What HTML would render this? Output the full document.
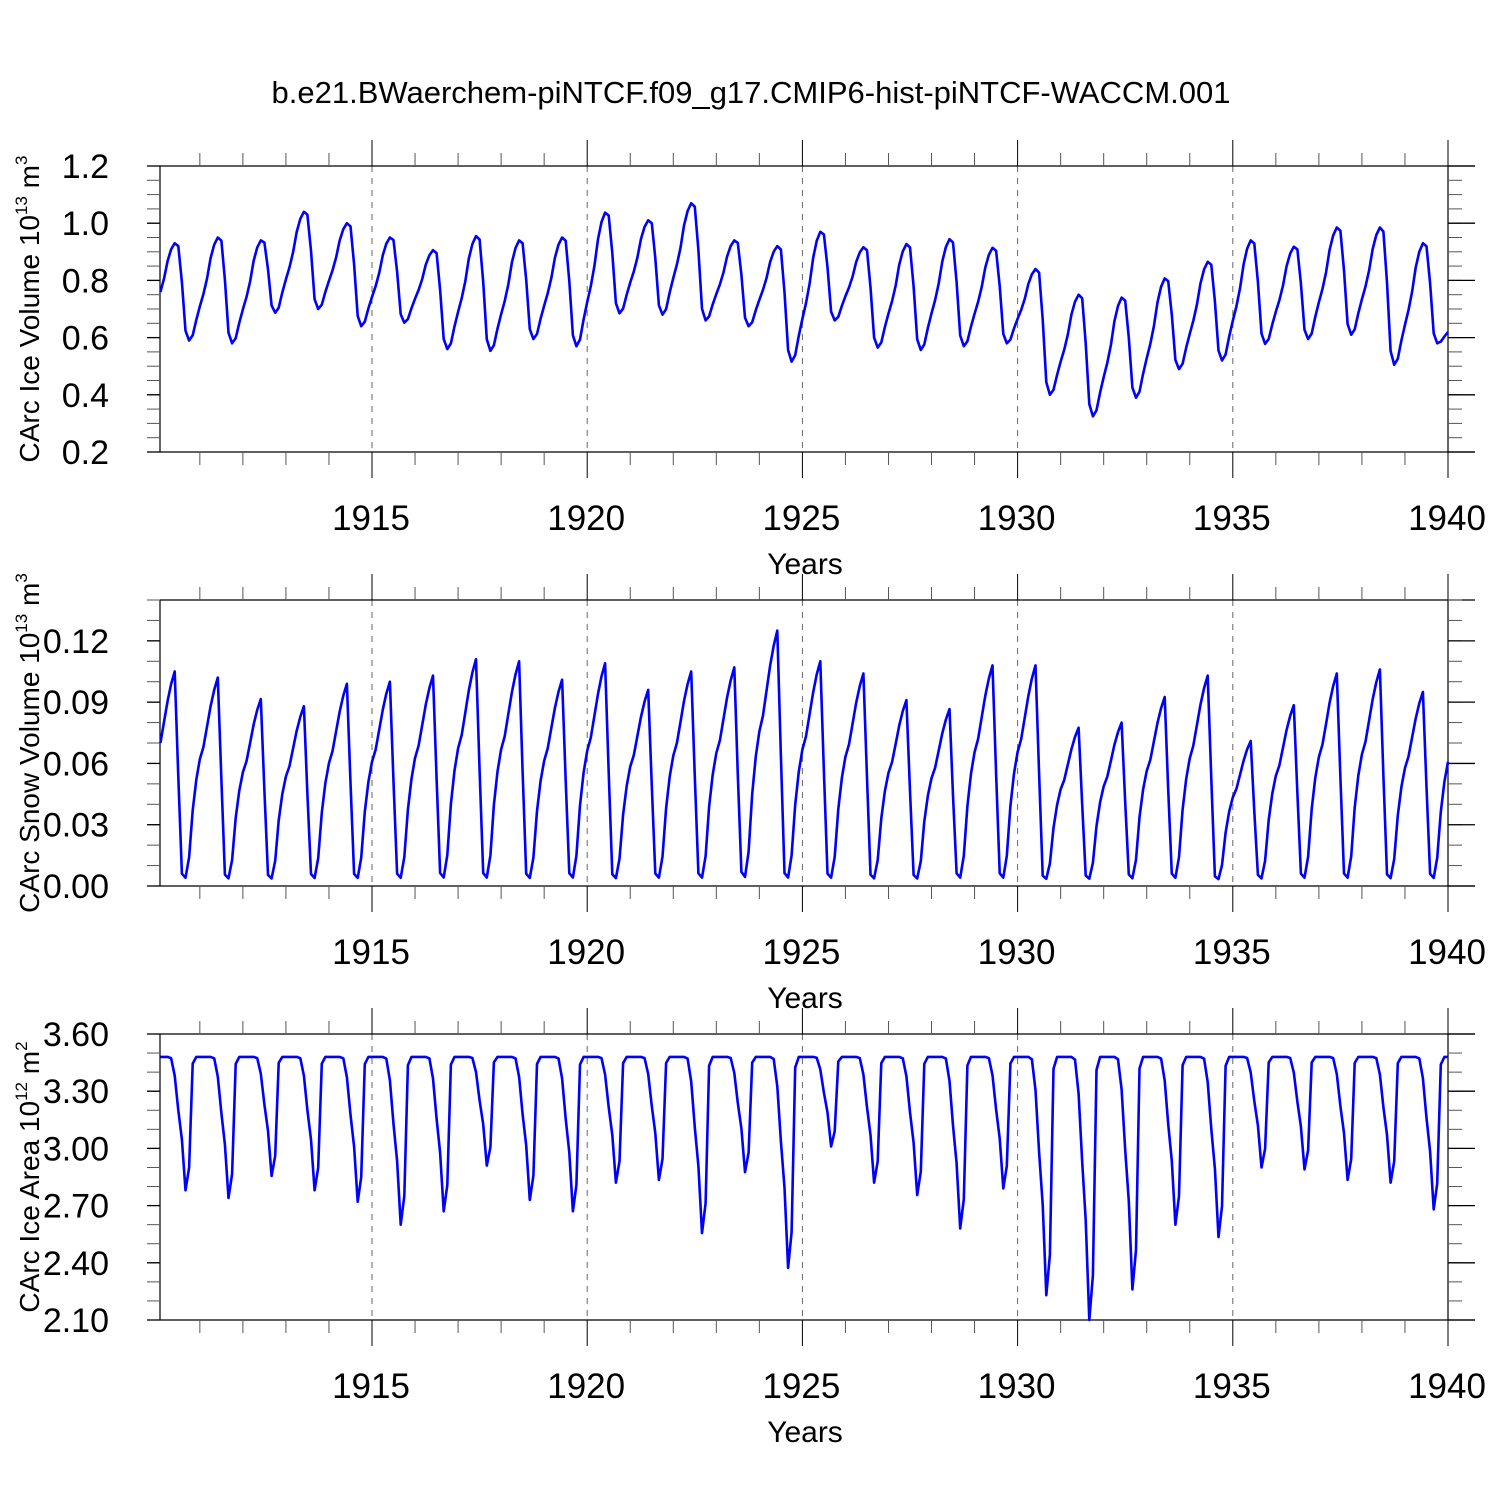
<!DOCTYPE html>
<html><head><meta charset="utf-8"><style>
html,body{margin:0;padding:0;background:#fff;}
svg text{font-family:"Liberation Sans",Arial,sans-serif;fill:#000;}
</style></head><body>
<svg id="chart" width="1500" height="1500" viewBox="0 0 1500 1500" xmlns="http://www.w3.org/2000/svg">
<rect width="1500" height="1500" fill="#fff"/>
<text x="751" y="103" font-size="31" text-anchor="middle">b.e21.BWaerchem-piNTCF.f09_g17.CMIP6-hist-piNTCF-WACCM.001</text>
</svg>
<script>
// ---- data (per-year values, years 1910..1939) ----
const years = [1910,1911,1912,1913,1914,1915,1916,1917,1918,1919,1920,1921,1922,1923,1924,1925,1926,1927,1928,1929,1930,1931,1932,1933,1934,1935,1936,1937,1938,1939];
const xTickLabels = [1915,1920,1925,1930,1935,1940];
// Ice volume (10^13 m^3)
const volPeak = [0.93,0.95,0.94,1.04,1.00,0.95,0.906,0.955,0.94,0.95,1.037,1.01,1.07,0.94,0.92,0.97,0.916,0.927,0.944,0.914,0.84,0.75,0.74,0.807,0.865,0.94,0.918,0.985,0.985,0.93];
const volTrough = [0.59,0.58,0.687,0.70,0.64,0.652,0.56,0.554,0.595,0.57,0.685,0.68,0.66,0.64,0.516,0.66,0.565,0.557,0.57,0.58,0.40,0.325,0.39,0.49,0.52,0.578,0.595,0.61,0.505,0.58];
const volStart = 0.62, volEnd = 0.70;
const volShape = [0.45,0.6,0.8,0.93,1.0,0.97,0.6,0.1,0.0,0.05,0.2,0.33];
// Snow volume (10^13 m^3)
const snowPeak = [0.105,0.102,0.0915,0.088,0.099,0.100,0.103,0.111,0.110,0.101,0.109,0.096,0.105,0.107,0.125,0.110,0.104,0.091,0.0866,0.108,0.108,0.0775,0.080,0.0925,0.103,0.071,0.0885,0.104,0.106,0.095];
const snowMin = 0.002, snowEndPeak = 0.10;
const snowShape = [0.66,0.76,0.86,0.94,1.0,0.5,0.04,0.02,0.12,0.35,0.5,0.6];
// Ice area (10^12 m^2)
const areaMax = 3.48;
const areaMin = [2.78,2.74,2.855,2.78,2.72,2.60,2.67,2.91,2.73,2.67,2.82,2.835,2.556,2.875,2.373,3.01,2.82,2.755,2.58,2.79,2.23,2.10,2.26,2.60,2.535,2.90,2.89,2.835,2.82,2.68];
const areaShape = [0,0,0,0.01,0.14,0.4,0.62,1,0.83,0.05,0,0];

const volTicks = ["0.2","0.4","0.6","0.8","1.0","1.2"];
const snowTicks = ["0.00","0.03","0.06","0.09","0.12"];
const areaTicks = ["2.10","2.40","2.70","3.00","3.30","3.60"];

const NS = "http://www.w3.org/2000/svg";
const svg = document.getElementById('chart');
function el(tag, attrs, parent){const e=document.createElementNS(NS,tag);for(const k in attrs)e.setAttribute(k,attrs[k]);(parent||svg).appendChild(e);return e;}
const X0=160, X1=1448, XR=1475;
function xs(t){return 372+(t-1915)*(X1-372)/25;}

function buildSeries(kind){
  const out=[];
  for(let y=0;y<years.length;y++){
    for(let m=0;m<12;m++){
      let v;
      if(kind==='vol'){
        const pk=volPeak[y];
        if(m<=4){const lo=y>0?volTrough[y-1]:volStart;v=lo+volShape[m]*(pk-lo);}
        else if(m<=8){v=volTrough[y]+volShape[m]*(pk-volTrough[y]);}
        else {const hi=y<years.length-1?volPeak[y+1]:volEnd;v=volTrough[y]+volShape[m]*(hi-volTrough[y]);}
      } else if(kind==='snow'){
        const pk=m<=5?snowPeak[y]:(y<years.length-1?snowPeak[y+1]:snowEndPeak);
        v=snowMin+snowShape[m]*(pk-snowMin);
      } else {
        v=areaMax-areaShape[m]*(areaMax-areaMin[y]);
      }
      out.push({t:years[y]+(m+1)/12,v:v});
    }
  }
  return out;
}

function panel(name,top,ymin,ymax,labels,minorStep,title,pts){
  const bot=top+286;
  const ys=v=>bot-(v-ymin)/(ymax-ymin)*286;
  const g=el('g',{});
  
  
  for(const yr of xTickLabels){const x=xs(yr);if(x<X1-2){const l=el('line',{x1:x,x2:x,y1:top,y2:bot,stroke:'#666','stroke-width':1,'stroke-dasharray':'6,6'},g);}}
  el('line',{x1:X0,x2:XR,y1:top,y2:top,stroke:'#000','stroke-width':1.2},g);
  el('line',{x1:X0,x2:XR,y1:bot,y2:bot,stroke:'#000','stroke-width':1.2},g);
  el('line',{x1:X0,x2:X0,y1:top,y2:bot,stroke:'#000','stroke-width':1.2},g);
  el('line',{x1:X1,x2:X1,y1:top,y2:bot,stroke:'#000','stroke-width':1.2},g);
  for(let yr=1911;yr<=1940;yr++){
    const x=xs(yr);const major=yr%5===0;const L=major?26:13;
    el('line',{x1:x,x2:x,y1:top-L,y2:top,stroke:major?'#000':'#555','stroke-width':1},g);
    el('line',{x1:x,x2:x,y1:bot,y2:bot+L,stroke:major?'#000':'#555','stroke-width':1},g);
  }
  xTickLabels.forEach(yr=>{const t=el('text',{x:xs(yr)-1,y:bot+78,'font-size':35,'text-anchor':'middle'},g);t.textContent=yr;});
  const xt=el('text',{x:805,y:bot+122,'font-size':30,'text-anchor':'middle'},g);xt.textContent='Years';
  
  
  const n=Math.round((ymax-ymin)/minorStep);
  for(let i=0;i<=n;i++){const y=ys(ymin+i*minorStep);el('line',{x1:X0-13,x2:X0,y1:y,y2:y,stroke:'#555','stroke-width':1},g);el('line',{x1:X1,x2:X1+14,y1:y,y2:y,stroke:'#555','stroke-width':1},g);}
  labels.forEach(s=>{const v=parseFloat(s);const y=ys(v);el('line',{x1:X0-13,x2:X0,y1:y,y2:y,stroke:'#000','stroke-width':1.3},g);el('line',{x1:X1,x2:XR,y1:y,y2:y,stroke:'#000','stroke-width':1.3},g);
    const t=el('text',{x:109,y:y+12,'font-size':34,'text-anchor':'end'},g);t.textContent=s;});
  const cy=(top+bot)/2;
  const tt=el('text',{transform:`translate(39,${cy}) rotate(-90)`,'font-size':28,'text-anchor':'middle'},g);
  tt.innerHTML=title;
  
  
  const d=pts.map((p,i)=>(i?'L':'M')+xs(p.t).toFixed(1)+','+ys(p.v).toFixed(1)).join(' ');
  const path=el('path',{d:d,fill:'none',stroke:'#0000ff','stroke-width':2.6,'stroke-linejoin':'round'},g);
  
  
}
panel('ice-volume',166,0.2,1.2,volTicks,0.05,'CArc Ice Volume 10<tspan dy="-12" font-size="17">13</tspan><tspan dy="12"> m</tspan><tspan dy="-12" font-size="17">3</tspan>',buildSeries('vol'));
panel('snow-volume',600,0,0.14,snowTicks,0.01,'CArc Snow Volume 10<tspan dy="-12" font-size="17">13</tspan><tspan dy="12"> m</tspan><tspan dy="-12" font-size="17">3</tspan>',buildSeries('snow'));
panel('ice-area',1034,2.1,3.6,areaTicks,0.1,'CArc Ice Area 10<tspan dy="-12" font-size="17">12</tspan><tspan dy="12"> m</tspan><tspan dy="-12" font-size="17">2</tspan>',buildSeries('area'));
</script>
</body></html>
